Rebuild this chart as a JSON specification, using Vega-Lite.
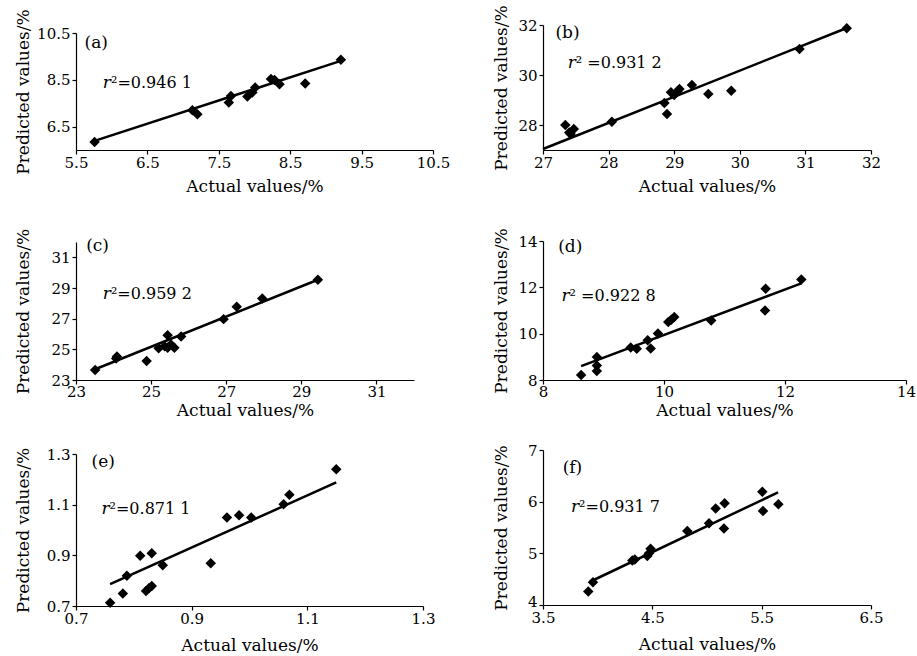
{
"$schema": "https://vega.github.io/schema/vega-lite/v6.json",
"padding": {"left": 13, "top": 4, "right": 2, "bottom": 2},
"background": "white",
"config": {
  "view": {"stroke": null},
  "font": "DejaVu Serif",
  "text": {"color": "black", "font": "DejaVu Serif"},
  "axis": {"domainColor": "black", "tickColor": "black", "labelColor": "black", "titleColor": "black",
    "labelFont": "DejaVu Serif", "titleFont": "DejaVu Serif", "labelFontSize": 15, "titleFontSize": 17,
    "titleFontWeight": "normal", "grid": false, "tickSize": 4, "domainWidth": 1.2, "tickWidth": 1.2,
    "labelPadding": 2, "labelFlush": false, "labelOverlap": false, "titleBaseline": "middle"},
  "axisX": {"labelPadding": 1}
},
"hconcat": [
  {"vconcat": [
    {"width": 357, "height": 1, "data": {"values": []}, "mark": "point"},
    {"vconcat": [
      {"width": 357, "height": 117,
       "encoding": {
         "x": {"field": "x", "type": "quantitative", "scale": {"domain": [5.5, 10.5], "nice": false, "zero": false}, "axis": {"values": [5.5, 6.5, 7.5, 8.5, 9.5, 10.5], "format": ".1f", "title": "Actual values/%", "titleY": 36}},
         "y": {"field": "y", "type": "quantitative", "scale": {"domain": [5.5, 10.5], "nice": false, "zero": false}, "axis": {"values": [6.5, 8.5, 10.5], "format": ".1f", "title": "Predicted values/%", "titleX": -53}}
       },
       "layer": [
         {"data": {"values": [{"x": 5.76, "y": 5.89}, {"x": 9.21, "y": 9.31}]}, "mark": {"type": "line", "color": "black", "strokeWidth": 2.5}, "encoding": {}},
         {"data": {"values": [{"x": 5.76, "y": 5.84}, {"x": 7.13, "y": 7.2}, {"x": 7.2, "y": 7.03}, {"x": 7.64, "y": 7.53}, {"x": 7.67, "y": 7.81}, {"x": 7.9, "y": 7.79}, {"x": 7.97, "y": 7.96}, {"x": 8.01, "y": 8.17}, {"x": 8.23, "y": 8.53}, {"x": 8.28, "y": 8.49}, {"x": 8.35, "y": 8.31}, {"x": 8.71, "y": 8.34}, {"x": 9.21, "y": 9.36}]}, "mark": {"type": "point", "shape": "diamond", "filled": true, "color": "black", "size": 110, "opacity": 1}},
         {"data": {"values": [{"x": 5.62, "y": 10.09, "t": "(a)"}]}, "mark": {"type": "text", "align": "left", "baseline": "middle", "fontSize": 17}, "encoding": {"text": {"field": "t"}}},
         {"data": {"values": [{"x": 5.99, "y": 8.38, "t": "r"}]}, "mark": {"type": "text", "align": "right", "baseline": "middle", "fontSize": 17, "fontStyle": "italic"}, "encoding": {"text": {"field": "t"}}},
         {"data": {"values": [{"x": 5.99, "y": 8.38, "t": "²=0.946 1"}]}, "mark": {"type": "text", "align": "left", "baseline": "middle", "fontSize": 16}, "encoding": {"text": {"field": "t"}}}
       ]},
      {"vconcat": [
        {"width": 338, "height": 138,
         "encoding": {
           "x": {"field": "x", "type": "quantitative", "scale": {"domain": [23, 32], "nice": false, "zero": false}, "axis": {"values": [23, 25, 27, 29, 31], "format": "d", "title": "Actual values/%", "titleY": 30, "labelPadding": 0}},
           "y": {"field": "y", "type": "quantitative", "scale": {"domain": [23, 32], "nice": false, "zero": false}, "axis": {"values": [23, 25, 27, 29, 31], "format": "d", "title": "Predicted values/%", "titleX": -53}}
         },
         "layer": [
           {"data": {"values": [{"x": 23.51, "y": 23.7}, {"x": 29.44, "y": 29.54}]}, "mark": {"type": "line", "color": "black", "strokeWidth": 2.5}, "encoding": {}},
           {"data": {"values": [{"x": 23.51, "y": 23.65}, {"x": 24.07, "y": 24.4}, {"x": 24.09, "y": 24.53}, {"x": 24.88, "y": 24.24}, {"x": 25.2, "y": 25.07}, {"x": 25.36, "y": 25.2}, {"x": 25.44, "y": 25.92}, {"x": 25.44, "y": 25.1}, {"x": 25.53, "y": 25.32}, {"x": 25.62, "y": 25.1}, {"x": 25.8, "y": 25.84}, {"x": 26.93, "y": 26.97}, {"x": 27.28, "y": 27.77}, {"x": 27.96, "y": 28.32}, {"x": 29.44, "y": 29.54}]}, "mark": {"type": "point", "shape": "diamond", "filled": true, "color": "black", "size": 110, "opacity": 1}},
           {"data": {"values": [{"x": 23.27, "y": 31.76, "t": "(c)"}]}, "mark": {"type": "text", "align": "left", "baseline": "middle", "fontSize": 17}, "encoding": {"text": {"field": "t"}}},
           {"data": {"values": [{"x": 23.93, "y": 28.6, "t": "r"}]}, "mark": {"type": "text", "align": "right", "baseline": "middle", "fontSize": 17, "fontStyle": "italic"}, "encoding": {"text": {"field": "t"}}},
           {"data": {"values": [{"x": 23.93, "y": 28.6, "t": "²=0.959 2"}]}, "mark": {"type": "text", "align": "left", "baseline": "middle", "fontSize": 16}, "encoding": {"text": {"field": "t"}}}
         ]},
        {"width": 347, "height": 152,
         "encoding": {
           "x": {"field": "x", "type": "quantitative", "scale": {"domain": [0.7, 1.3], "nice": false, "zero": false}, "axis": {"values": [0.7, 0.9, 1.1, 1.3], "format": ".1f", "title": "Actual values/%", "titleY": 39}},
           "y": {"field": "y", "type": "quantitative", "scale": {"domain": [0.7, 1.3], "nice": false, "zero": false}, "axis": {"values": [0.7, 0.9, 1.1, 1.3], "format": ".1f", "title": "Predicted values/%", "titleX": -53}}
         },
         "layer": [
           {"data": {"values": [{"x": 0.759, "y": 0.786}, {"x": 1.15, "y": 1.188}]}, "mark": {"type": "line", "color": "black", "strokeWidth": 2.5}, "encoding": {}},
           {"data": {"values": [{"x": 0.759, "y": 0.713}, {"x": 0.781, "y": 0.749}, {"x": 0.788, "y": 0.819}, {"x": 0.811, "y": 0.898}, {"x": 0.821, "y": 0.759}, {"x": 0.826, "y": 0.77}, {"x": 0.831, "y": 0.779}, {"x": 0.831, "y": 0.908}, {"x": 0.85, "y": 0.861}, {"x": 0.933, "y": 0.869}, {"x": 0.961, "y": 1.049}, {"x": 0.982, "y": 1.058}, {"x": 1.003, "y": 1.049}, {"x": 1.059, "y": 1.102}, {"x": 1.069, "y": 1.139}, {"x": 1.15, "y": 1.24}]}, "mark": {"type": "point", "shape": "diamond", "filled": true, "color": "black", "size": 110, "opacity": 1}},
           {"data": {"values": [{"x": 0.727, "y": 1.267, "t": "(e)"}]}, "mark": {"type": "text", "align": "left", "baseline": "middle", "fontSize": 17}, "encoding": {"text": {"field": "t"}}},
           {"data": {"values": [{"x": 0.758, "y": 1.082, "t": "r"}]}, "mark": {"type": "text", "align": "right", "baseline": "middle", "fontSize": 17, "fontStyle": "italic"}, "encoding": {"text": {"field": "t"}}},
           {"data": {"values": [{"x": 0.758, "y": 1.082, "t": "²=0.871 1"}]}, "mark": {"type": "text", "align": "left", "baseline": "middle", "fontSize": 16}, "encoding": {"text": {"field": "t"}}}
         ]}
      ], "spacing": 74, "bounds": "flush"}
    ], "spacing": 92, "bounds": "flush"}
  ], "spacing": 7, "bounds": "flush"},
  {"vconcat": [
    {"width": 328, "height": 125,
     "encoding": {
       "x": {"field": "x", "type": "quantitative", "scale": {"domain": [27, 32], "nice": false, "zero": false}, "axis": {"values": [27, 28, 29, 30, 31, 32], "format": "d", "title": "Actual values/%", "titleY": 36}},
       "y": {"field": "y", "type": "quantitative", "scale": {"domain": [27, 32], "nice": false, "zero": false}, "axis": {"values": [28, 30, 32], "format": "d", "title": "Predicted values/%", "titleX": -42}}
     },
     "layer": [
       {"data": {"values": [{"x": 27.0, "y": 27.04}, {"x": 31.65, "y": 31.9}]}, "mark": {"type": "line", "color": "black", "strokeWidth": 2.5}, "encoding": {}},
       {"data": {"values": [{"x": 27.34, "y": 28.0}, {"x": 27.42, "y": 27.64}, {"x": 27.47, "y": 27.84}, {"x": 27.4, "y": 27.7}, {"x": 28.05, "y": 28.13}, {"x": 28.85, "y": 28.88}, {"x": 28.89, "y": 28.44}, {"x": 28.95, "y": 29.31}, {"x": 29.0, "y": 29.2}, {"x": 29.05, "y": 29.35}, {"x": 29.08, "y": 29.44}, {"x": 29.27, "y": 29.6}, {"x": 29.52, "y": 29.24}, {"x": 29.87, "y": 29.37}, {"x": 30.91, "y": 31.04}, {"x": 31.63, "y": 31.87}]}, "mark": {"type": "point", "shape": "diamond", "filled": true, "color": "black", "size": 110, "opacity": 1}},
       {"data": {"values": [{"x": 27.19, "y": 31.7, "t": "(b)"}]}, "mark": {"type": "text", "align": "left", "baseline": "middle", "fontSize": 17}, "encoding": {"text": {"field": "t"}}},
       {"data": {"values": [{"x": 27.5, "y": 30.5, "t": "r"}]}, "mark": {"type": "text", "align": "right", "baseline": "middle", "fontSize": 17, "fontStyle": "italic"}, "encoding": {"text": {"field": "t"}}},
       {"data": {"values": [{"x": 27.5, "y": 30.5, "t": "² =0.931 2"}]}, "mark": {"type": "text", "align": "left", "baseline": "middle", "fontSize": 16}, "encoding": {"text": {"field": "t"}}}
     ]},
    {"vconcat": [
      {"width": 363, "height": 139,
       "encoding": {
         "x": {"field": "x", "type": "quantitative", "scale": {"domain": [8, 14], "nice": false, "zero": false}, "axis": {"values": [8, 10, 12, 14], "format": "d", "title": "Actual values/%", "titleY": 30, "labelPadding": 0}},
         "y": {"field": "y", "type": "quantitative", "scale": {"domain": [8, 14], "nice": false, "zero": false}, "axis": {"values": [8, 10, 12, 14], "format": "d", "title": "Predicted values/%", "titleX": -42}}
       },
       "layer": [
         {"data": {"values": [{"x": 8.63, "y": 8.6}, {"x": 12.27, "y": 12.17}]}, "mark": {"type": "line", "color": "black", "strokeWidth": 2.5}, "encoding": {}},
         {"data": {"values": [{"x": 8.63, "y": 8.22}, {"x": 8.89, "y": 8.39}, {"x": 8.89, "y": 8.63}, {"x": 8.89, "y": 8.99}, {"x": 9.45, "y": 9.4}, {"x": 9.55, "y": 9.35}, {"x": 9.73, "y": 9.72}, {"x": 9.78, "y": 9.36}, {"x": 9.9, "y": 10.01}, {"x": 10.07, "y": 10.5}, {"x": 10.12, "y": 10.6}, {"x": 10.17, "y": 10.72}, {"x": 10.78, "y": 10.57}, {"x": 11.67, "y": 11.0}, {"x": 11.68, "y": 11.94}, {"x": 12.27, "y": 12.34}]}, "mark": {"type": "point", "shape": "diamond", "filled": true, "color": "black", "size": 110, "opacity": 1}},
         {"data": {"values": [{"x": 8.25, "y": 13.75, "t": "(d)"}]}, "mark": {"type": "text", "align": "left", "baseline": "middle", "fontSize": 17}, "encoding": {"text": {"field": "t"}}},
         {"data": {"values": [{"x": 8.44, "y": 11.62, "t": "r"}]}, "mark": {"type": "text", "align": "right", "baseline": "middle", "fontSize": 17, "fontStyle": "italic"}, "encoding": {"text": {"field": "t"}}},
         {"data": {"values": [{"x": 8.44, "y": 11.62, "t": "² =0.922 8"}]}, "mark": {"type": "text", "align": "left", "baseline": "middle", "fontSize": 16}, "encoding": {"text": {"field": "t"}}}
       ]},
      {"width": 328, "height": 155,
       "encoding": {
         "x": {"field": "x", "type": "quantitative", "scale": {"domain": [3.5, 6.5], "nice": false, "zero": false}, "axis": {"values": [3.5, 4.5, 5.5, 6.5], "format": ".1f", "title": "Actual values/%", "titleY": 39}},
         "y": {"field": "y", "type": "quantitative", "scale": {"domain": [4, 7], "nice": false, "zero": false}, "axis": {"values": [4, 5, 6, 7], "format": "d", "title": "Predicted values/%", "titleX": -42, "labelOffset": {"condition": {"test": "datum.value === 4", "value": -4}, "value": 0}}}
       },
       "layer": [
         {"data": {"values": [{"x": 3.93, "y": 4.45}, {"x": 5.65, "y": 6.18}]}, "mark": {"type": "line", "color": "black", "strokeWidth": 2.5}, "encoding": {}},
         {"data": {"values": [{"x": 3.914, "y": 4.26}, {"x": 3.957, "y": 4.44}, {"x": 4.317, "y": 4.86}, {"x": 4.34, "y": 4.88}, {"x": 4.454, "y": 4.95}, {"x": 4.47, "y": 5.0}, {"x": 4.484, "y": 5.09}, {"x": 4.82, "y": 5.43}, {"x": 5.019, "y": 5.58}, {"x": 5.079, "y": 5.87}, {"x": 5.155, "y": 5.48}, {"x": 5.161, "y": 5.97}, {"x": 5.506, "y": 6.19}, {"x": 5.512, "y": 5.82}, {"x": 5.653, "y": 5.95}]}, "mark": {"type": "point", "shape": "diamond", "filled": true, "color": "black", "size": 110, "opacity": 1}},
         {"data": {"values": [{"x": 3.68, "y": 6.66, "t": "(f)"}]}, "mark": {"type": "text", "align": "left", "baseline": "middle", "fontSize": 17}, "encoding": {"text": {"field": "t"}}},
         {"data": {"values": [{"x": 3.83, "y": 5.89, "t": "r"}]}, "mark": {"type": "text", "align": "right", "baseline": "middle", "fontSize": 17, "fontStyle": "italic"}, "encoding": {"text": {"field": "t"}}},
         {"data": {"values": [{"x": 3.83, "y": 5.89, "t": "²=0.931 7"}]}, "mark": {"type": "text", "align": "left", "baseline": "middle", "fontSize": 16}, "encoding": {"text": {"field": "t"}}}
       ]}
    ], "spacing": 70, "bounds": "flush"}
  ], "spacing": 91, "bounds": "flush"}
],
"spacing": 41,
"bounds": "full"
}
